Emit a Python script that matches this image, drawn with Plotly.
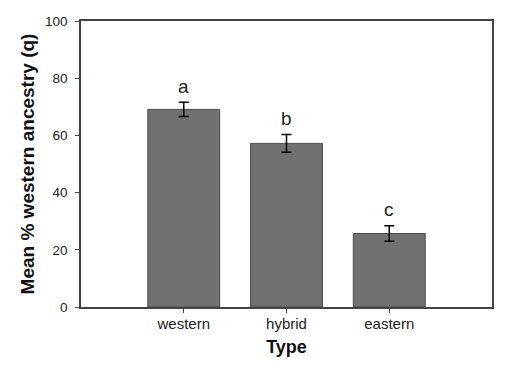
import plotly.graph_objects as go

categories = ["western", "hybrid", "eastern"]
means = [69.1, 57.2, 25.7]
errors = [2.5, 3.1, 2.7]
letters = ["a", "b", "c"]
y_ticks = [0, 20, 40, 60, 80, 100]

xpos = list(range(len(categories)))

fig = go.Figure()
fig.add_trace(go.Bar(
    x=xpos, y=means, width=0.7,
    marker=dict(color="#717171", line=dict(color="#4d4d4d", width=1)),
    error_y=dict(type="data", array=errors, visible=True, color="black", thickness=1.5, width=5),
    showlegend=False,
))

for x, m, e, l in zip(xpos, means, errors, letters):
    fig.add_annotation(x=x, y=m + e, text=l, showarrow=False, yshift=16,
                       font=dict(family="Liberation Sans, Arial", size=19, color="#222"))

axis_common = dict(showline=True, linecolor="#444", linewidth=1.5, mirror=True,
                   ticks="outside", ticklen=4, tickcolor="#444", showgrid=False, zeroline=False)

fig.update_layout(
    width=519, height=381,
    margin=dict(l=81, r=27, t=21, b=74),
    plot_bgcolor="white", paper_bgcolor="white",
    font=dict(family="Liberation Sans, Arial", color="#222"),
    xaxis=dict(range=[-1, 3], tickvals=xpos, ticktext=categories,
               tickfont=dict(size=15), ticklabelstandoff=-2,
               title=dict(text="<b>Type</b>", font=dict(size=18, color="#111"), standoff=10),
               **axis_common),
    yaxis=dict(range=[0, 100], tickvals=y_ticks, tickfont=dict(size=13.5), ticklabelstandoff=5,
               title=dict(text="<b>Mean % western ancestry (q)</b>", font=dict(size=19, color="#111"), standoff=5),
               **axis_common),
)

fig.write_html("out.html")
